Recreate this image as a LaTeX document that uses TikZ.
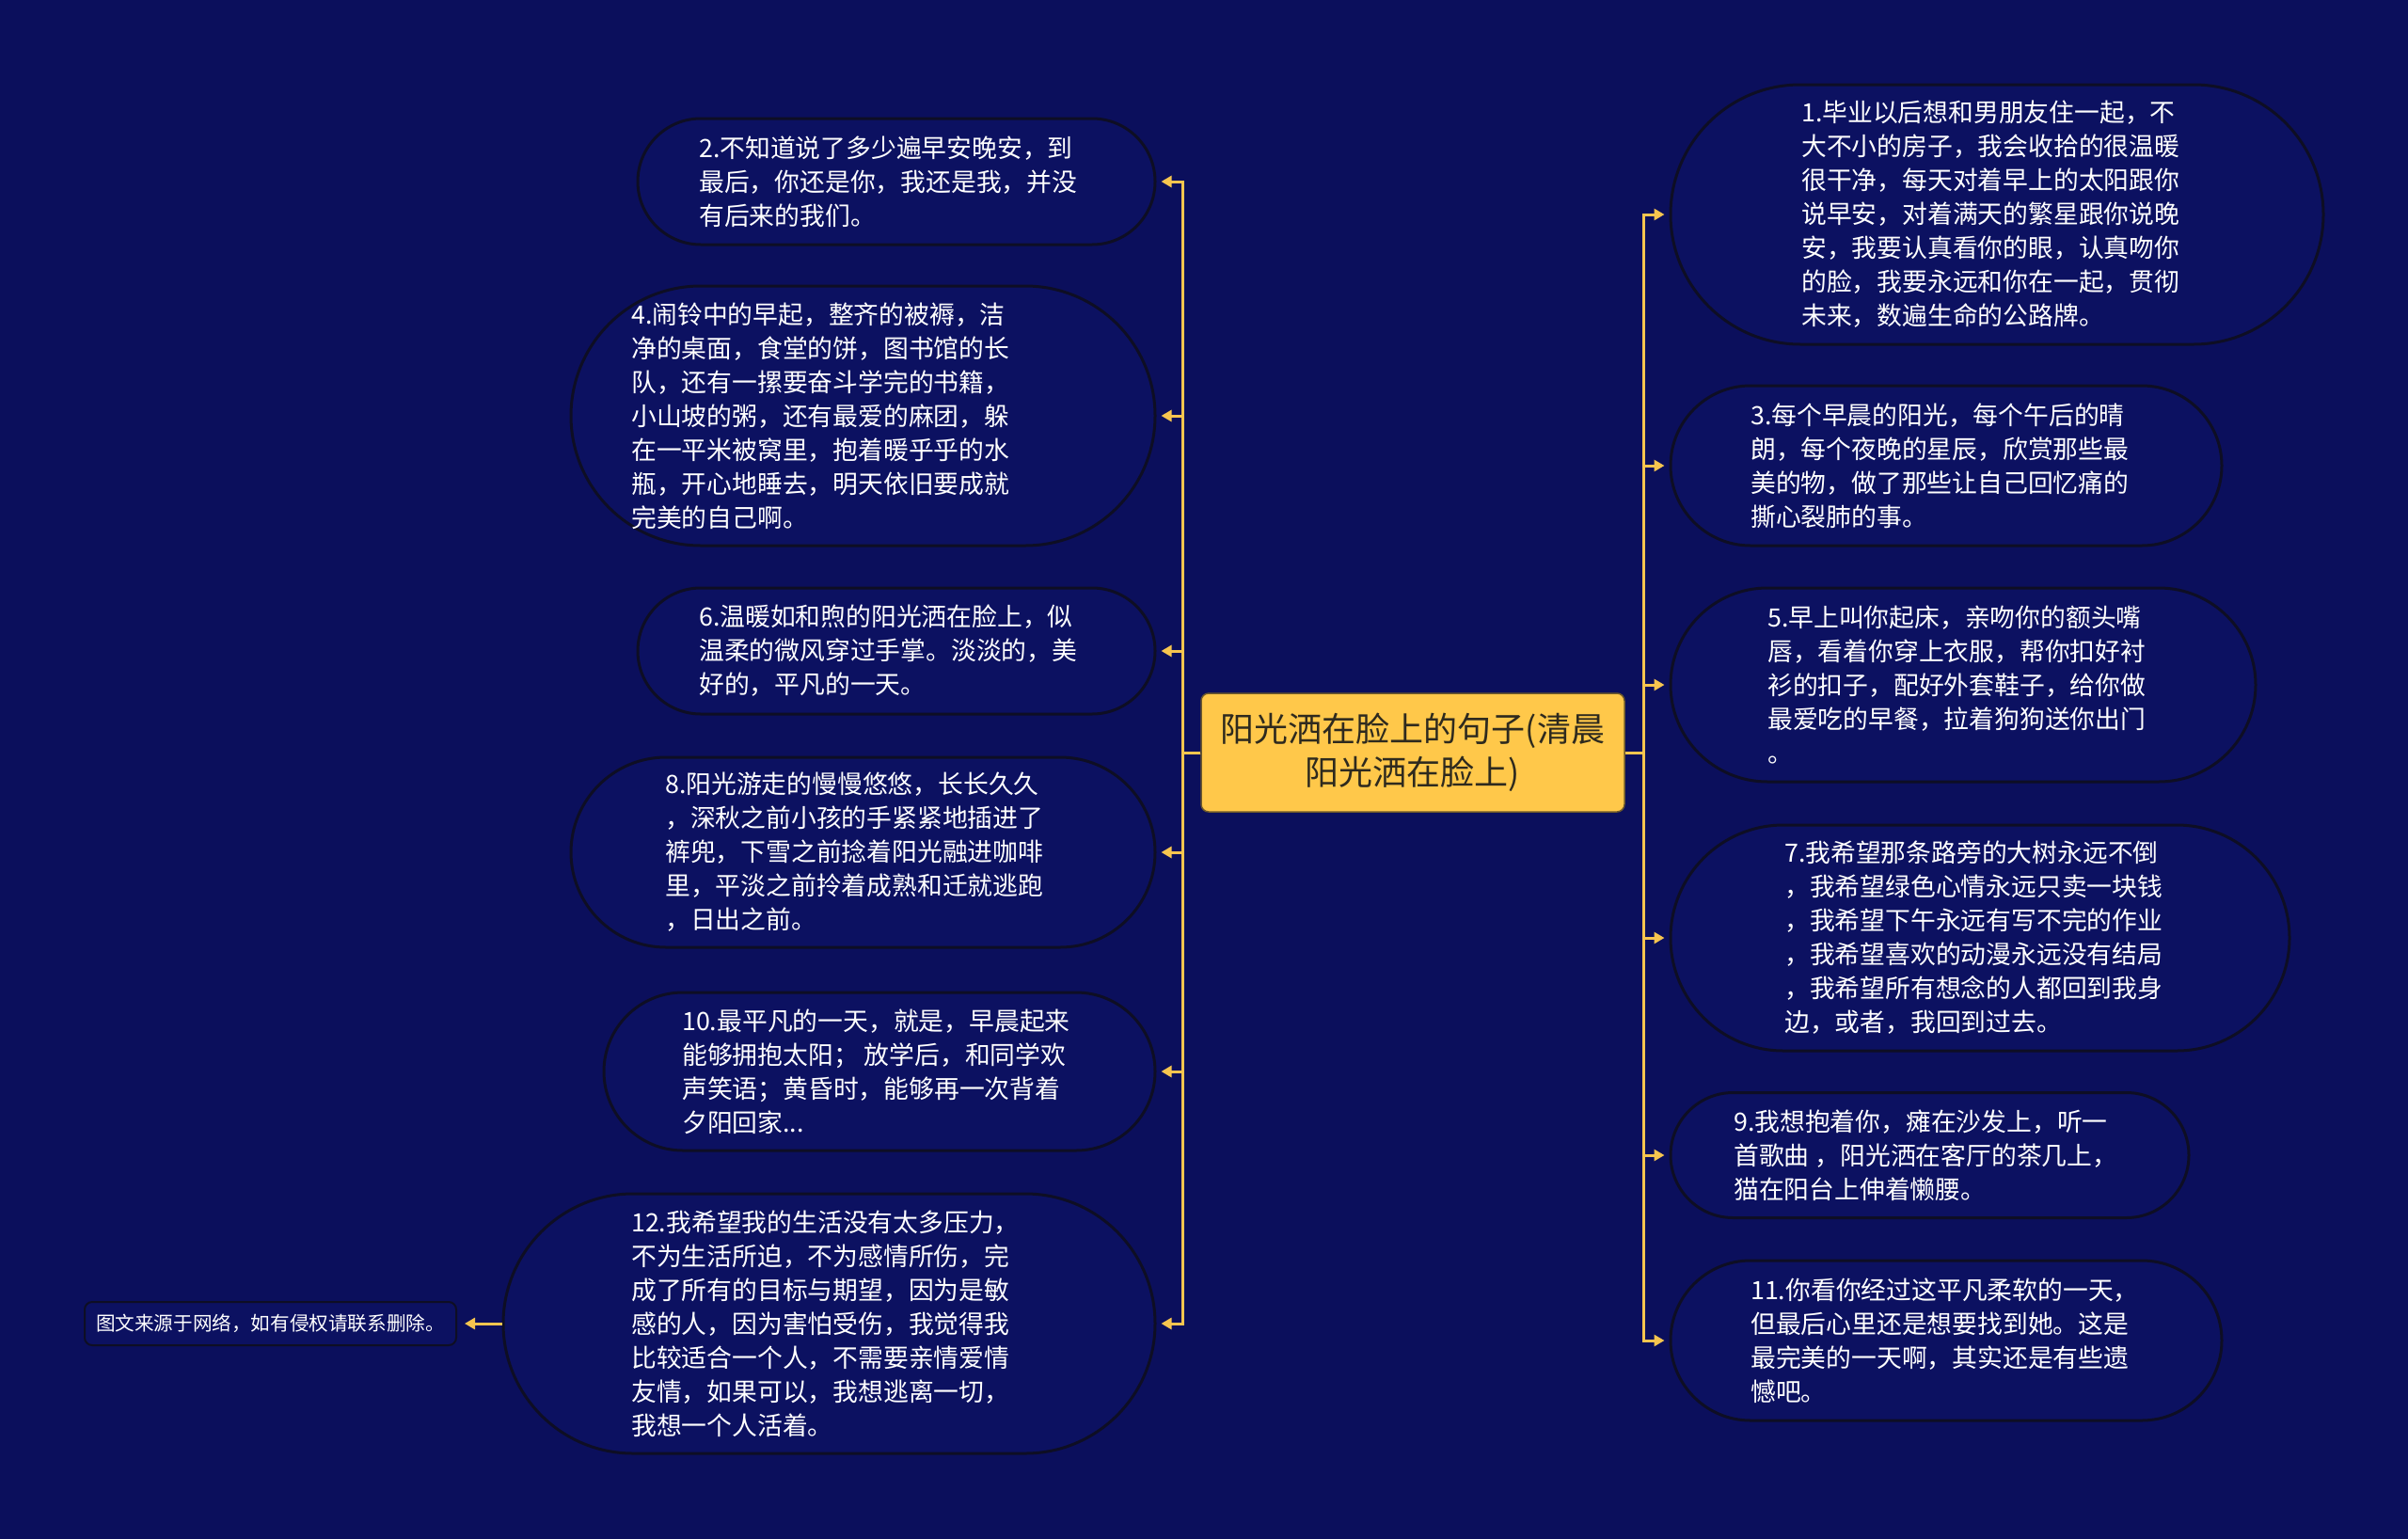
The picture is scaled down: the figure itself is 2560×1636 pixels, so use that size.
\documentclass[tikz,border=0pt]{standalone}
\usepackage{fontspec}
\setmainfont{Noto Sans CJK SC}
\usetikzlibrary{shapes.misc,arrows.meta}
\definecolor{bg}{HTML}{0B0F5C}
\definecolor{bubblefill}{HTML}{0C1161}
\definecolor{bubbleedge}{HTML}{0E0E24}
\definecolor{gold}{HTML}{F6C54F}
\definecolor{centerfill}{HTML}{FFC84A}
\definecolor{centertext}{HTML}{2E2A1E}
\begin{document}
\begin{tikzpicture}[x=1pt,y=-1pt,
  bubble/.style={rounded rectangle, draw=bubbleedge, line width=3pt, fill=bubblefill, inner sep=0pt},
  txt/.style={anchor=west, text=white, align=left, inner sep=0pt, font=\fontsize{26.8}{36}\selectfont},
  conn/.style={draw=gold, line width=3pt, -{Triangle[length=11pt,width=12pt]}, shorten >=5pt},
  centerbox/.style={draw=centertext!70!centerfill, line width=1.5pt, fill=centerfill, rounded corners=8pt, align=center, text=centertext, font=\fontsize{36}{46}\selectfont},
  notebox/.style={draw=bubbleedge, line width=2pt, fill=bubblefill, rounded corners=8pt, text=white, font=\fontsize{20.6}{24}\selectfont}]
\fill[bg] (0,0) rectangle (2560,1636);
\useasboundingbox (0,0) rectangle (2560,1636);

% central node
\node[centerbox, minimum width=450pt, minimum height=126pt] (c) at (1502,800) {阳光洒在脸上的句子(清晨\\阳光洒在脸上)};
\coordinate (lj) at (1257,800);
\coordinate (rj) at (1747,800);

% left bubbles
\node[bubble, minimum width=550pt, minimum height=134pt] (b2) at (953,193) {};
\node[bubble, minimum width=621pt, minimum height=276pt] (b4) at (917.5,442) {};
\node[bubble, minimum width=550pt, minimum height=134pt] (b6) at (953,692) {};
\node[bubble, minimum width=621pt, minimum height=202pt] (b8) at (917.5,906) {};
\node[bubble, minimum width=586pt, minimum height=168pt] (b10) at (935,1139) {};
\node[bubble, minimum width=693pt, minimum height=276pt] (b12) at (881.5,1407) {};

% right bubbles
\node[bubble, minimum width=694pt, minimum height=276pt] (b1) at (2123,228) {};
\node[bubble, minimum width=586pt, minimum height=170pt] (b3) at (2069,495) {};
\node[bubble, minimum width=622pt, minimum height=206pt] (b5) at (2087,728) {};
\node[bubble, minimum width=658pt, minimum height=240pt] (b7) at (2105,997) {};
\node[bubble, minimum width=551pt, minimum height=133pt] (b9) at (2051.5,1228) {};
\node[bubble, minimum width=586pt, minimum height=170pt] (b11) at (2069,1425) {};

% note
\node[notebox, minimum width=395pt, minimum height=46pt] (n) at (287.5,1407) {图文来源于网络，如有侵权请联系删除。};

% texts
\node[txt] (t2) at (743,193) {2.不知道说了多少遍早安晚安，到\\最后，你还是你，我还是我，并没\\有后来的我们。};
\node[txt] (t4) at (671,442) {4.闹铃中的早起，整齐的被褥，洁\\净的桌面，食堂的饼，图书馆的长\\队，还有一摞要奋斗学完的书籍，\\小山坡的粥，还有最爱的麻团，躲\\在一平米被窝里，抱着暖乎乎的水\\瓶，开心地睡去，明天依旧要成就\\完美的自己啊。};
\node[txt] (t6) at (743,692) {6.温暖如和煦的阳光洒在脸上，似\\温柔的微风穿过手掌。淡淡的，美\\好的，平凡的一天。};
\node[txt] (t8) at (707,906) {8.阳光游走的慢慢悠悠，长长久久\\，深秋之前小孩的手紧紧地插进了\\裤兜，下雪之前捻着阳光融进咖啡\\里，平淡之前拎着成熟和迁就逃跑\\，日出之前。};
\node[txt] (t10) at (725,1139) {10.最平凡的一天，就是，早晨起来\\能够拥抱太阳； 放学后，和同学欢\\声笑语；黄昏时，能够再一次背着\\夕阳回家...};
\node[txt] (t12) at (671,1407) {12.我希望我的生活没有太多压力，\\不为生活所迫，不为感情所伤，完\\成了所有的目标与期望，因为是敏\\感的人，因为害怕受伤，我觉得我\\比较适合一个人，不需要亲情爱情\\友情，如果可以，我想逃离一切，\\我想一个人活着。};

\node[txt] (t1) at (1915,228) {1.毕业以后想和男朋友住一起，不\\大不小的房子，我会收拾的很温暖\\很干净，每天对着早上的太阳跟你\\说早安，对着满天的繁星跟你说晚\\安，我要认真看你的眼，认真吻你\\的脸，我要永远和你在一起，贯彻\\未来，数遍生命的公路牌。};
\node[txt] (t3) at (1861,495) {3.每个早晨的阳光，每个午后的晴\\朗，每个夜晚的星辰，欣赏那些最\\美的物，做了那些让自己回忆痛的\\撕心裂肺的事。};
\node[txt] (t5) at (1879,728) {5.早上叫你起床，亲吻你的额头嘴\\唇，看着你穿上衣服，帮你扣好衬\\衫的扣子，配好外套鞋子，给你做\\最爱吃的早餐，拉着狗狗送你出门\\。};
\node[txt] (t7) at (1897,997) {7.我希望那条路旁的大树永远不倒\\，我希望绿色心情永远只卖一块钱\\，我希望下午永远有写不完的作业\\，我希望喜欢的动漫永远没有结局\\，我希望所有想念的人都回到我身\\边，或者，我回到过去。};
\node[txt] (t9) at (1843,1228) {9.我想抱着你，瘫在沙发上，听一\\首歌曲 ，阳光洒在客厅的茶几上，\\猫在阳台上伸着懒腰。};
\node[txt] (t11) at (1861,1425) {11.你看你经过这平凡柔软的一天，\\但最后心里还是想要找到她。这是\\最完美的一天啊，其实还是有些遗\\憾吧。};

% connectors
\foreach \b in {b2,b4,b6,b8,b10,b12} {
  \draw[conn] (c.west) -- (lj) |- (\b.east);
}
\foreach \b in {b1,b3,b5,b7,b9,b11} {
  \draw[conn] (c.east) -- (rj) |- (\b.west);
}
\draw[conn, shorten >=8pt] (b12.west) -- (n.east);
\end{tikzpicture}
\end{document}
